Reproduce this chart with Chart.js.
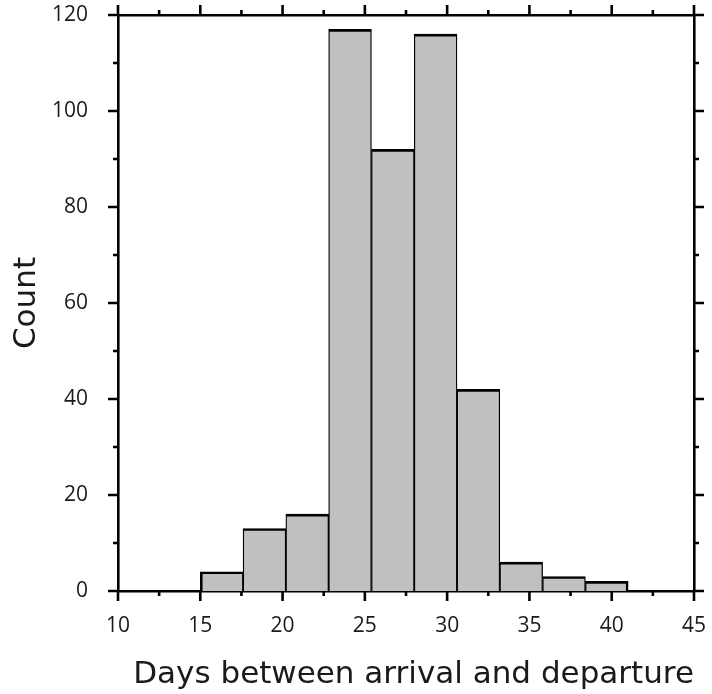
<!DOCTYPE html>
<html>
<head>
<meta charset="utf-8">
<script src="https://cdn.jsdelivr.net/npm/chart.js@4.4.1/dist/chart.umd.min.js"></script>
<style>
  html, body { margin: 0; padding: 0; background: #fff; }
  #wrap { width: 712px; height: 694px; }
</style>
</head>
<body>
<div id="wrap"><canvas id="histChart" width="712" height="694"></canvas></div>
<script>
// Histogram: days between arrival and departure
const binEdges = [15, 17.6, 20.2, 22.8, 25.4, 28, 30.6, 33.2, 35.8, 38.4, 41];
const counts = [4, 13, 16, 117, 92, 116, 42, 6, 3, 2];

const xMajorTicks = [10, 15, 20, 25, 30, 35, 40, 45];
const xMinorTicks = [12.5, 17.5, 22.5, 27.5, 32.5, 37.5, 42.5];
const yMajorTicks = [0, 20, 40, 60, 80, 100, 120];
const yMinorTicks = [10, 30, 50, 70, 90, 110];

const xTitle = 'Days between arrival and departure';
const yTitle = 'Count';

const TICK_FONT = "'Open Sans', sans-serif";
const TITLE_FONT = "'DejaVu Sans', sans-serif";
const TEXT_COLOR = '#1a1a1a';
const LINE_W = 2.6;

// bar centres from bin edges
const points = counts.map((c, i) => ({ x: (binEdges[i] + binEdges[i + 1]) / 2, y: c }));

// draws the outward tick marks on all four sides of the box
const boxTicks = {
    id: 'boxTicks',
    afterDraw(chart) {
        const { ctx, chartArea: a, scales } = chart;
        const x = scales.x, y = scales.y;
        ctx.save();
        ctx.strokeStyle = '#000';
        ctx.lineWidth = LINE_W;
        ctx.beginPath();
        const mark = (vals, len) => {
            vals.forEach(v => {
                const px = x.getPixelForValue(v);
                ctx.moveTo(px, a.bottom); ctx.lineTo(px, a.bottom + len);
                ctx.moveTo(px, a.top); ctx.lineTo(px, a.top - len);
            });
        };
        const markY = (vals, len) => {
            vals.forEach(v => {
                const py = y.getPixelForValue(v);
                ctx.moveTo(a.left, py); ctx.lineTo(a.left - len, py);
                ctx.moveTo(a.right, py); ctx.lineTo(a.right + len, py);
            });
        };
        mark(xMajorTicks, 10);
        mark(xMinorTicks, 5);
        markY(yMajorTicks, 10);
        markY(yMinorTicks, 5);
        ctx.stroke();
        ctx.restore();
    }
};

// fixed box sizes so the plot area lands where the reference has it
function fixSize(prop, size) {
    return (s) => {
        s[prop] = size;
        s.paddingTop = 0; s.paddingBottom = 0;
        s.paddingLeft = 0; s.paddingRight = 0;
    };
}

function createHistChart() {
    const ctx = document.getElementById('histChart').getContext('2d');
    const last = counts.length - 1;

    window.histChart = new Chart(ctx, {
        type: 'bar',
        data: {
            datasets: [{
                label: yTitle,
                data: points,
                backgroundColor: '#c0c0c0',
                borderColor: '#000',
                borderWidth: (c) => ({
                    top: LINE_W,
                    bottom: 0,
                    left: c.dataIndex === 0 ? LINE_W : LINE_W / 2,
                    right: c.dataIndex === last ? LINE_W : LINE_W / 2
                }),
                borderSkipped: 'start',
                barPercentage: 1,
                categoryPercentage: 1
            }]
        },
        options: {
            responsive: false,
            animation: false,
            plugins: {
                legend: { display: false },
                tooltip: { enabled: false }
            },
            layout: { padding: 0 },
            scales: {
                x: {
                    type: 'linear',
                    position: 'bottom',
                    min: 10,
                    max: 45,
                    offset: false,
                    grid: { display: false, drawTicks: false, tickLength: 0, offset: false },
                    border: { display: true, color: '#000', width: LINE_W },
                    ticks: {
                        stepSize: 5,
                        padding: 22,
                        color: TEXT_COLOR,
                        font: { family: TICK_FONT, size: 21 }
                    },
                    title: {
                        display: true,
                        text: xTitle,
                        align: 'end',
                        color: TEXT_COLOR,
                        font: { family: TITLE_FONT, size: 31 },
                        padding: { top: 0, bottom: 0 }
                    },
                    afterFit: fixSize('height', 103)
                },
                x2: {
                    type: 'linear',
                    position: 'top',
                    min: 10,
                    max: 45,
                    grid: { display: false, drawTicks: false },
                    border: { display: true, color: '#000', width: LINE_W },
                    ticks: { display: false },
                    afterFit: fixSize('height', 15)
                },
                y: {
                    type: 'linear',
                    position: 'left',
                    min: 0,
                    max: 120,
                    grid: { display: false, drawTicks: false, tickLength: 0 },
                    border: { display: true, color: '#000', width: LINE_W },
                    ticks: {
                        stepSize: 20,
                        padding: 30,
                        color: TEXT_COLOR,
                        font: { family: TICK_FONT, size: 21 }
                    },
                    title: {
                        display: true,
                        text: yTitle,
                        color: TEXT_COLOR,
                        font: { family: TITLE_FONT, size: 31 },
                        padding: { top: 8, bottom: 0 }
                    },
                    afterFit: fixSize('width', 118)
                },
                y2: {
                    type: 'linear',
                    position: 'right',
                    min: 0,
                    max: 120,
                    grid: { display: false, drawTicks: false },
                    border: { display: true, color: '#000', width: LINE_W },
                    ticks: { display: false },
                    afterFit: fixSize('width', 18)
                }
            }
        },
        plugins: [boxTicks]
    });
}

createHistChart();
</script>
</body>
</html>
